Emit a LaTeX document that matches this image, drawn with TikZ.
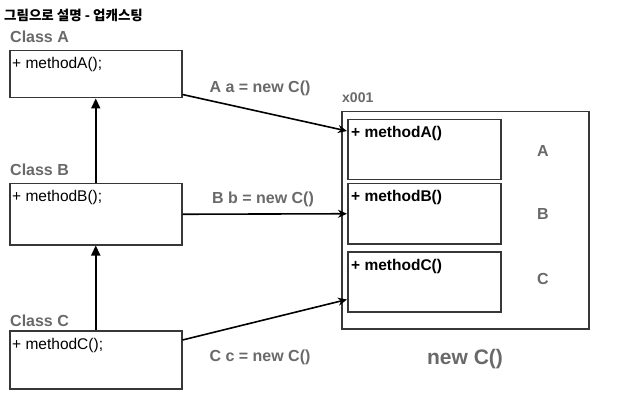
\documentclass[tikz,border=0pt]{standalone}
\usepackage{fontspec}
\setmainfont{Liberation Sans}
\newfontfamily\kofont{Noto Sans CJK KR}
\usetikzlibrary{arrows.meta,calc}
\definecolor{labelgray}{RGB}{105,105,105}
\definecolor{linegray}{RGB}{55,55,55}
\tikzset{
    classbox/.style={draw=linegray, line width=1.5pt, minimum width=172pt, minimum height=#1, anchor=north west, inner sep=0pt},
    membox/.style={draw=linegray, line width=1.5pt, minimum width=153pt, minimum height=60pt, anchor=north west, inner sep=0pt},
    graytext/.style={text=labelgray, font=\bfseries\fontsize{16}{18}\selectfont, inner sep=0pt},
    codetext/.style={font=\fontsize{15.5}{18}\selectfont, inner sep=0pt, anchor=base west},
    upcast/.style={-{Triangle[length=10pt,width=9pt]}, line width=2.2pt},
    refarrow/.style={-{Stealth[length=9pt,width=8pt]}, line width=1.6pt},
}

\begin{document}
\begin{tikzpicture}[x=1pt, y=-1pt]
    \useasboundingbox (0,0) rectangle (635,401);
    %title
    \node[anchor=base west, inner sep=0pt, font=\kofont\bfseries\fontsize{13.5}{15}\selectfont] (title) at (4,21) {그림으로 설명 - 업캐스팅};
    %class boxes
    \node[classbox=47pt] (boxA) at (9,50) {};
    \node[classbox=61pt] (boxB) at (9,183) {};
    \node[classbox=58pt] (boxC) at (9,330) {};
    \node[graytext, anchor=base west] (nameA) at (10,43) {Class A};
    \node[graytext, anchor=base west] (nameB) at (10,176) {Class B};
    \node[graytext, anchor=base west] (nameC) at (10,326) {Class C};
    \node[codetext] (codeA) at (12,69) {+ methodA();};
    \node[codetext] (codeB) at (12,202) {+ methodB();};
    \node[codetext] (codeC) at (12,349) {+ methodC();};
    %instance
    \node[draw=linegray, line width=1.5pt, minimum width=247pt, minimum height=217pt, anchor=north west, inner sep=0pt] (heap) at (341,111) {};
    \node[graytext, anchor=base west, font=\bfseries\fontsize{14}{16}\selectfont] (addr) at (342,103) {x001};
    \node[membox] (memA) at (347,119) {};
    \node[membox] (memB) at (347,183) {};
    \node[membox] (memC) at (347,251) {};
    \node[codetext, font=\bfseries\fontsize{15.5}{18}\selectfont] (mcodeA) at (351,138) {+ methodA()};
    \node[codetext, font=\bfseries\fontsize{15.5}{18}\selectfont] (mcodeB) at (351,202) {+ methodB()};
    \node[codetext, font=\bfseries\fontsize{15.5}{18}\selectfont] (mcodeC) at (351,270) {+ methodC()};
    \node[graytext] (partA) at (543,151) {A};
    \node[graytext] (partB) at (543,214) {B};
    \node[graytext] (partC) at (543,279) {C};
    \node[graytext, font=\bfseries\fontsize{21}{24}\selectfont] (newC) at (465,359) {new C()};
    %inheritance arrows
    \draw[upcast] (boxC.north) -- (boxB.south);
    \draw[upcast] (boxB.north) -- (boxA.south);
    %reference arrows
    \draw[refarrow] ($(boxA.south east)+(0,-4)$) -- ($(memA.north west)+(0,12)$);
    \draw[refarrow] (boxB.east) -- (memB.west);
    \draw[refarrow] ($(boxC.north east)+(0,10)$) -- ($(memC.south west)+(0,-13)$);
    \node[graytext] (refA) at (260,88) {A a = new C()};
    \node[graytext] (refB) at (263,199) {B b = new C()};
    \node[graytext] (refC) at (260,357) {C c = new C()};
\end{tikzpicture}
\end{document}
